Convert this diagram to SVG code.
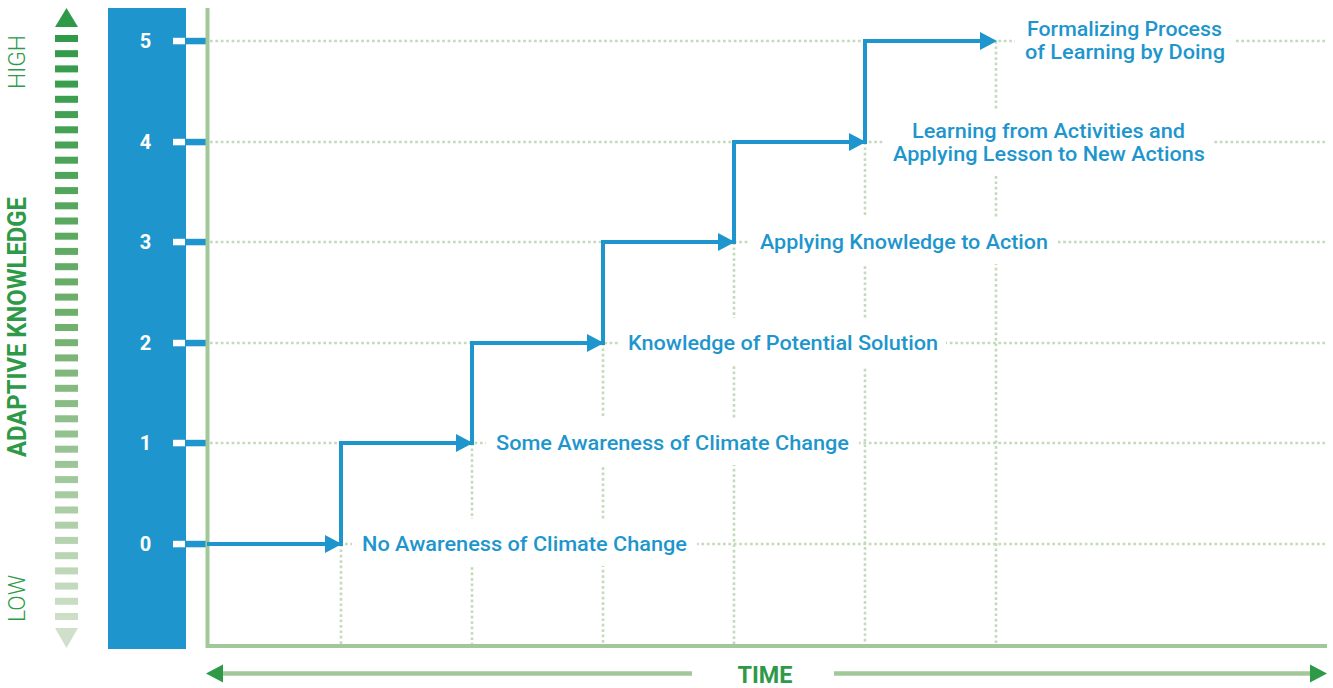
<svg xmlns="http://www.w3.org/2000/svg" width="1333" height="688" viewBox="0 0 1333 688">
<style>
.lbl{font-family:Roboto,"Liberation Sans",sans-serif;font-size:20px;font-weight:500;fill:#1e96cd}
.num{font-family:Roboto,"Liberation Sans",sans-serif;font-size:20px;font-weight:700;fill:#ffffff;text-anchor:middle}
.grn{font-family:Roboto,"Liberation Sans",sans-serif;fill:#2e9a48}
.dot{stroke:#c3dabb;stroke-width:2.6;stroke-dasharray:2.7 2.7;fill:none}
.axis{stroke:#a2c799;stroke-width:4;fill:none}
.bg{fill:#ffffff}
.arr{fill:#1e96cd}
</style>
<defs>
<linearGradient id="kg" gradientUnits="userSpaceOnUse" x1="0" y1="30" x2="0" y2="625">
<stop offset="0" stop-color="#2e9a48"/>
<stop offset="0.5" stop-color="#72b06e"/>
<stop offset="1" stop-color="#cfe0c9"/>
</linearGradient>
</defs>
<rect width="1333" height="688" fill="#ffffff"/>

<g id="knowledge-scale">
<polygon points="66.5,8 55,27 78,27" fill="#2e9a48"/>
<polygon points="66.5,648 55,628 78,628" fill="#cfdfc9"/>
<g fill="url(#kg)">
<rect x="55" y="35.0" width="23" height="7"/><rect x="55" y="50.2" width="23" height="7"/><rect x="55" y="65.4" width="23" height="7"/><rect x="55" y="80.6" width="23" height="7"/><rect x="55" y="95.8" width="23" height="7"/><rect x="55" y="111.1" width="23" height="7"/><rect x="55" y="126.3" width="23" height="7"/><rect x="55" y="141.5" width="23" height="7"/><rect x="55" y="156.7" width="23" height="7"/><rect x="55" y="171.9" width="23" height="7"/><rect x="55" y="187.1" width="23" height="7"/><rect x="55" y="202.3" width="23" height="7"/><rect x="55" y="217.5" width="23" height="7"/><rect x="55" y="232.7" width="23" height="7"/><rect x="55" y="247.9" width="23" height="7"/><rect x="55" y="263.2" width="23" height="7"/><rect x="55" y="278.4" width="23" height="7"/><rect x="55" y="293.6" width="23" height="7"/><rect x="55" y="308.8" width="23" height="7"/><rect x="55" y="324.0" width="23" height="7"/><rect x="55" y="339.2" width="23" height="7"/><rect x="55" y="354.4" width="23" height="7"/><rect x="55" y="369.6" width="23" height="7"/><rect x="55" y="384.8" width="23" height="7"/><rect x="55" y="400.1" width="23" height="7"/><rect x="55" y="415.3" width="23" height="7"/><rect x="55" y="430.5" width="23" height="7"/><rect x="55" y="445.7" width="23" height="7"/><rect x="55" y="460.9" width="23" height="7"/><rect x="55" y="476.1" width="23" height="7"/><rect x="55" y="491.3" width="23" height="7"/><rect x="55" y="506.5" width="23" height="7"/><rect x="55" y="521.7" width="23" height="7"/><rect x="55" y="536.9" width="23" height="7"/><rect x="55" y="552.2" width="23" height="7"/><rect x="55" y="567.4" width="23" height="7"/><rect x="55" y="582.6" width="23" height="7"/><rect x="55" y="597.8" width="23" height="7"/><rect x="55" y="613.0" width="23" height="7"/>
</g>
<text class="grn" transform="translate(25,62) rotate(-90)" text-anchor="middle" font-size="24" font-weight="300" textLength="54" lengthAdjust="spacingAndGlyphs">HIGH</text>
<text class="grn" transform="translate(25,598.5) rotate(-90)" text-anchor="middle" font-size="24" font-weight="300" textLength="47" lengthAdjust="spacingAndGlyphs">LOW</text>
<text class="grn" transform="translate(26,327) rotate(-90)" text-anchor="middle" font-size="25" font-weight="700" textLength="260" lengthAdjust="spacingAndGlyphs">ADAPTIVE KNOWLEDGE</text>
</g>

<g id="level-bar">
<rect x="108" y="8" width="78" height="641" fill="#1e96cd"/>
<text class="num" x="145.5" y="48">5</text>
<text class="num" x="145.5" y="149">4</text>
<text class="num" x="145.5" y="249">3</text>
<text class="num" x="145.5" y="350">2</text>
<text class="num" x="145.5" y="450">1</text>
<text class="num" x="145.5" y="551">0</text>
<g fill="#ffffff">
<rect x="173" y="37.8" width="12" height="6.5"/><rect x="173" y="138.8" width="12" height="6.5"/><rect x="173" y="238.8" width="12" height="6.5"/><rect x="173" y="339.8" width="12" height="6.5"/><rect x="173" y="439.8" width="12" height="6.5"/><rect x="173" y="540.8" width="12" height="6.5"/>
</g>
<g fill="#1e96cd">
<rect x="185" y="37.8" width="22" height="6.5"/><rect x="185" y="138.8" width="22" height="6.5"/><rect x="185" y="238.8" width="22" height="6.5"/><rect x="185" y="339.8" width="22" height="6.5"/><rect x="185" y="439.8" width="22" height="6.5"/><rect x="185" y="540.8" width="22" height="6.5"/>
</g>
</g>

<g id="grid">
<path class="dot" d="M210 41H1325M210 142H1325M210 242H1325M210 343H1325M210 443H1325M210 544H1325"/>
<path class="dot" d="M341 544V645M472 443V645M603 343V645M734 242V645M865 142V645M996 41V645"/>
</g>

<g id="axes">
<path class="axis" d="M207.5 8V646H1327"/>
</g>

<g id="connectors">
<path d="M207 544H341V443H472V343H603V242H734V142H865V41H985" fill="none" stroke="#1e96cd" stroke-width="4" stroke-linejoin="miter"/>
<polygon class="arr" points="342,544 325,535 325,553"/>
<polygon class="arr" points="473,443 456,434 456,452"/>
<polygon class="arr" points="604,343 587,334 587,352"/>
<polygon class="arr" points="735,242 718,233 718,251"/>
<polygon class="arr" points="866,142 849,133 849,151"/>
<polygon class="arr" points="997,41 980,32 980,50"/>
</g>

<g id="label-0">
<rect class="bg" x="352" y="519" width="345" height="47"/>
<text class="lbl" x="362" y="551" textLength="325" lengthAdjust="spacingAndGlyphs">No Awareness of Climate Change</text>
</g>
<g id="label-1">
<rect class="bg" x="486" y="418" width="373" height="47"/>
<text class="lbl" x="496" y="450" textLength="353" lengthAdjust="spacingAndGlyphs">Some Awareness of Climate Change</text>
</g>
<g id="label-2">
<rect class="bg" x="618" y="318" width="328" height="48"/>
<text class="lbl" x="628" y="350" textLength="310" lengthAdjust="spacingAndGlyphs">Knowledge of Potential Solution</text>
</g>
<g id="label-3">
<rect class="bg" x="750" y="217" width="308" height="47"/>
<text class="lbl" x="760" y="249" textLength="288" lengthAdjust="spacingAndGlyphs">Applying Knowledge to Action</text>
</g>
<g id="label-4">
<rect class="bg" x="883" y="110" width="330" height="66"/>
<text class="lbl" x="912" y="138" textLength="273" lengthAdjust="spacingAndGlyphs">Learning from Activities and</text>
<text class="lbl" x="893" y="161" textLength="312" lengthAdjust="spacingAndGlyphs">Applying Lesson to New Actions</text>
</g>
<g id="label-5">
<rect class="bg" x="1015" y="8" width="220" height="66"/>
<text class="lbl" x="1027" y="36" textLength="195" lengthAdjust="spacingAndGlyphs">Formalizing Process</text>
<text class="lbl" x="1025" y="59" textLength="200" lengthAdjust="spacingAndGlyphs">of Learning by Doing</text>
</g>

<g id="time-axis">
<line x1="220" y1="673.5" x2="692" y2="673.5" stroke="#a2c799" stroke-width="4.5"/>
<line x1="834" y1="673.5" x2="1312" y2="673.5" stroke="#a2c799" stroke-width="4.5"/>
<polygon points="206,673.5 223,664.5 223,682.5" fill="#2e9a48"/>
<polygon points="1327,673.5 1310,664.5 1310,682.5" fill="#2e9a48"/>
<text class="grn" x="765" y="683" text-anchor="middle" font-size="24" font-weight="700" textLength="55" lengthAdjust="spacingAndGlyphs">TIME</text>
</g>
</svg>
